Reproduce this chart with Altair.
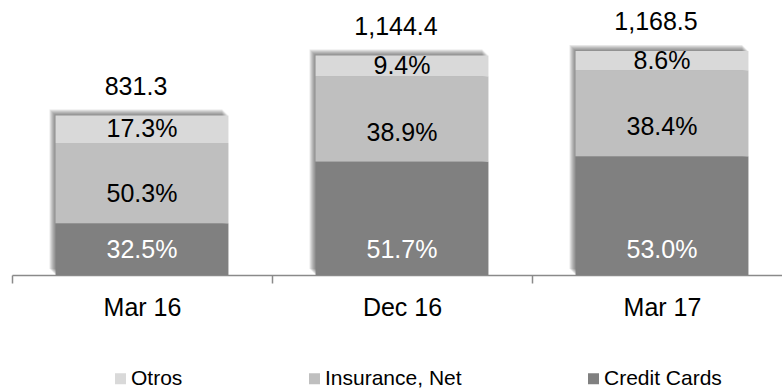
import altair as alt
import pandas as pd

periods = ["Mar 16", "Dec 16", "Mar 17"]
totals = [831.3, 1144.4, 1168.5]
series = ["Otros", "Insurance, Net", "Credit Cards"]
pct_credit = [32.5, 51.7, 53.0]
pct_insurance = [50.3, 38.9, 38.4]
pct_otros = [17.3, 9.4, 8.6]
colors = ["#D9D9D9", "#BFBFBF", "#808080"]

rows = []
for i, p in enumerate(periods):
    start = 0.0
    for name, pcts in [("Credit Cards", pct_credit),
                       ("Insurance, Net", pct_insurance),
                       ("Otros", pct_otros)]:
        v = totals[i] * pcts[i] / 100.0
        if name == "Credit Cards":
            pos = start + min(v / 2, 130)
        elif name == "Insurance, Net":
            pos = start + min(v / 2, 150)
        else:
            pos = start + v / 2
        rows.append(dict(period=p, series=name, start=start, end=start + v,
                         label=f"{pcts[i]:.1f}%", pos=pos))
        start += v
seg = pd.DataFrame(rows)
tot = pd.DataFrame({"period": periods, "total": totals})

BAND = alt.RelativeBandSize(0.665)
xenc = alt.X(
    "period:N",
    sort=periods,
    scale=alt.Scale(domain=periods, range=[0, 780], paddingInner=0, paddingOuter=0),
    axis=alt.Axis(title=None, labelAngle=0, labelFontSize=25, labelColor="#000000",
                  domainColor="#8a8a8a", domainWidth=1.5, tickColor="#8a8a8a",
                  tickWidth=1.5, tickSize=8, tickBand="extent", labelPadding=12,
                  grid=False),
)
yscale = alt.Scale(domain=[0, 1434], nice=False, zero=True)

layers = []
for k in range(1, 7):
    layers.append(
        alt.Chart(tot).mark_bar(width=BAND, xOffset=-k, yOffset=-k,
                                color="#3a3a3a", opacity=0.12)
        .encode(x=xenc, y=alt.Y("total:Q", scale=yscale, axis=None))
    )

bars = alt.Chart(seg).mark_bar(width=BAND).encode(
    x=xenc,
    y=alt.Y("start:Q", scale=yscale, axis=None),
    y2="end:Q",
    color=alt.Color("series:N",
                    scale=alt.Scale(domain=series, range=colors),
                    legend=alt.Legend(title=None, orient="none", legendX=98, legendY=368,
                                      direction="horizontal", labelFontSize=21,
                                      labelColor="#000000", symbolType="square",
                                      symbolSize=121, symbolStrokeWidth=0,
                                      labelOffset=0, columnPadding=121, padding=0)),
)

txt_dark = alt.Chart(seg).transform_filter(alt.datum.series != "Credit Cards").mark_text(
    fontSize=25, color="#000000", baseline="middle", align="center"
).encode(x=xenc, y=alt.Y("pos:Q", scale=yscale, axis=None), text="label:N")

txt_light = alt.Chart(seg).transform_filter(alt.datum.series == "Credit Cards").mark_text(
    fontSize=25, color="#FFFFFF", baseline="middle", align="center"
).encode(x=xenc, y=alt.Y("pos:Q", scale=yscale, axis=None), text="label:N")

txt_tot = alt.Chart(tot).mark_text(
    fontSize=25, color="#000000", baseline="middle", align="center", dy=-29, dx=-6
).encode(x=xenc, y=alt.Y("total:Q", scale=yscale, axis=None),
         text=alt.Text("total:Q", format=",.1f"))

chart = alt.layer(*layers, bars, txt_dark, txt_light, txt_tot).properties(
    width=770, height=275,
    autosize=alt.AutoSizeParams(type="none"),
    padding={"left": 12, "top": 0, "right": 0, "bottom": 113},
).configure(font="Liberation Sans").configure_view(stroke=None)

chart.save("out.html", embed_options={"renderer": "svg", "actions": False})
